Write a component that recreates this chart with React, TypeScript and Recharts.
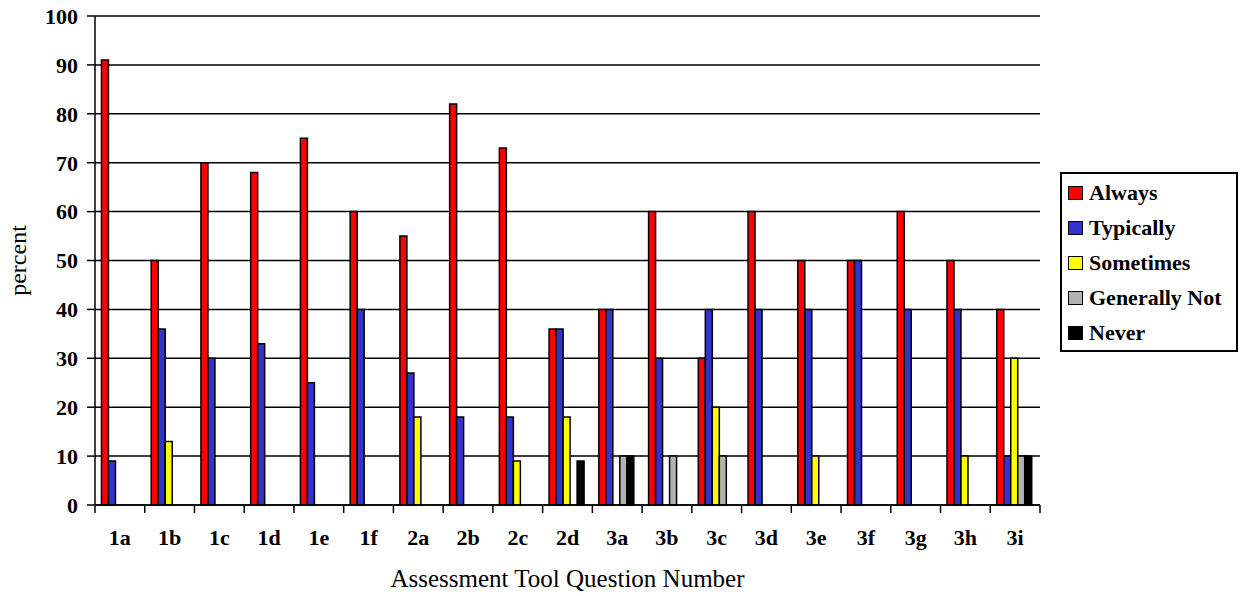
import React from 'react';
import { BarChart, Bar, XAxis, YAxis, CartesianGrid, Legend } from 'recharts';

const questions = ['1a', '1b', '1c', '1d', '1e', '1f', '2a', '2b', '2c', '2d', '3a', '3b', '3c', '3d', '3e', '3f', '3g', '3h', '3i'];
const always = [91, 50, 70, 68, 75, 60, 55, 82, 73, 36, 40, 60, 30, 60, 50, 50, 60, 50, 40];
const typically = [9, 36, 30, 33, 25, 40, 27, 18, 18, 36, 40, 30, 40, 40, 40, 50, 40, 40, 10];
const sometimes = [null, 13, null, null, null, null, 18, null, 9, 18, null, null, 20, null, 10, null, null, 10, 30];
const generallyNot = [null, null, null, null, null, null, null, null, null, null, 10, 10, 10, null, null, null, null, null, 10];
const never = [null, null, null, null, null, null, null, null, null, 9, 10, null, null, null, null, null, null, null, 10];
const yTicks = [0, 10, 20, 30, 40, 50, 60, 70, 80, 90, 100];

const series = [
  { key: 'always', name: 'Always', color: '#FF0000' },
  { key: 'typically', name: 'Typically', color: '#3333CC' },
  { key: 'sometimes', name: 'Sometimes', color: '#FFFF00' },
  { key: 'generallyNot', name: 'Generally Not', color: '#B2B2B2' },
  { key: 'never', name: 'Never', color: '#000000' },
];

const data = questions.map((q, i) => ({
  q,
  always: always[i],
  typically: typically[i],
  sometimes: sometimes[i],
  generallyNot: generallyNot[i],
  never: never[i],
}));

const W = 1243;
const H = 596;
const margin = { top: 16, right: 203, bottom: 31, left: 0 };
const yAxisWidth = 95;
const band = (W - margin.left - margin.right - yAxisWidth) / questions.length;
const font = "'Liberation Serif', 'Times New Roman', serif";

// category label in the middle, tick marks on the category boundaries
const QuestionTick = (props: any) => {
  const { x, y, payload, index } = props;
  const left = x - band / 2;
  return (
    <g>
      <line x1={left} y1={y} x2={left} y2={y + 8} stroke="#000" strokeWidth={1.5} />
      {index === questions.length - 1 && (
        <line x1={x + band / 2} y1={y} x2={x + band / 2} y2={y + 8} stroke="#000" strokeWidth={1.5} />
      )}
      <text x={x} y={y + 40} textAnchor="middle" fontFamily={font} fontWeight="bold" fontSize={22} fill="#000">
        {payload.value}
      </text>
    </g>
  );
};

// rotated y axis title, centred on the plot height
const PercentLabel = (props: any) => {
  const { viewBox } = props;
  const cy = viewBox.y + viewBox.height / 2;
  return (
    <text
      x={18}
      y={cy}
      transform={`rotate(-90, 18, ${cy})`}
      textAnchor="middle"
      dominantBaseline="central"
      fontFamily={font}
      fontSize={24}
      fill="#000"
    >
      percent
    </text>
  );
};

const LegendBox = () => (
  <div
    style={{
      border: '2px solid #000',
      background: '#fff',
      padding: '1px 4px 0 6px',
      fontFamily: font,
      fontWeight: 'bold',
      fontSize: 22,
      width: 164,
      textAlign: 'left',
    }}
  >
    {series.map((s) => (
      <div key={s.key} style={{ display: 'flex', alignItems: 'center', height: 35, whiteSpace: 'nowrap' }}>
        <span
          style={{
            display: 'inline-block',
            boxSizing: 'border-box',
            width: 15,
            height: 14,
            background: s.color,
            border: '1.5px solid #000',
            marginRight: 6,
          }}
        />
        {s.name}
      </div>
    ))}
  </div>
);

export default function App() {
  return (
    <div style={{ position: 'absolute', left: 0, top: 0, width: W, height: H, background: '#fff' }}>
      <BarChart width={W} height={H} data={data} margin={margin} barCategoryGap="13%" barGap={0}>
        <CartesianGrid horizontal vertical={false} stroke="#000" strokeWidth={1.5} />
        <XAxis
          dataKey="q"
          height={60}
          tickLine={false}
          tickSize={0}
          tickMargin={0}
          axisLine={{ stroke: '#000', strokeWidth: 1.5 }}
          tick={<QuestionTick />}
          interval={0}
          label={{
            value: 'Assessment Tool Question Number',
            position: 'insideBottom',
            offset: -22,
            fontFamily: font,
            fontSize: 25,
            fill: '#000',
          }}
        />
        <YAxis
          width={yAxisWidth}
          domain={[0, 100]}
          ticks={yTicks}
          interval={0}
          tickSize={8}
          tickMargin={9}
          tickLine={{ stroke: '#000', strokeWidth: 1.5 }}
          axisLine={{ stroke: '#000', strokeWidth: 1.5 }}
          tick={{ fontFamily: font, fontWeight: 'bold', fontSize: 22, fill: '#000' }}
          label={<PercentLabel />}
        />
        <YAxis
          yAxisId="frame"
          orientation="right"
          width={0}
          domain={[0, 100]}
          tick={false}
          tickLine={false}
          axisLine={{ stroke: '#000', strokeWidth: 1.5 }}
        />
        {series.map((s) => (
          <Bar
            key={s.key}
            dataKey={s.key}
            name={s.name}
            fill={s.color}
            stroke="#000"
            strokeWidth={1.5}
            isAnimationActive={false}
          />
        ))}
        <Legend
          content={<LegendBox />}
          layout="vertical"
          align="center"
          verticalAlign="middle"
          wrapperStyle={{ position: 'absolute', left: 1060, top: 172, width: 180 }}
        />
      </BarChart>
    </div>
  );
}
